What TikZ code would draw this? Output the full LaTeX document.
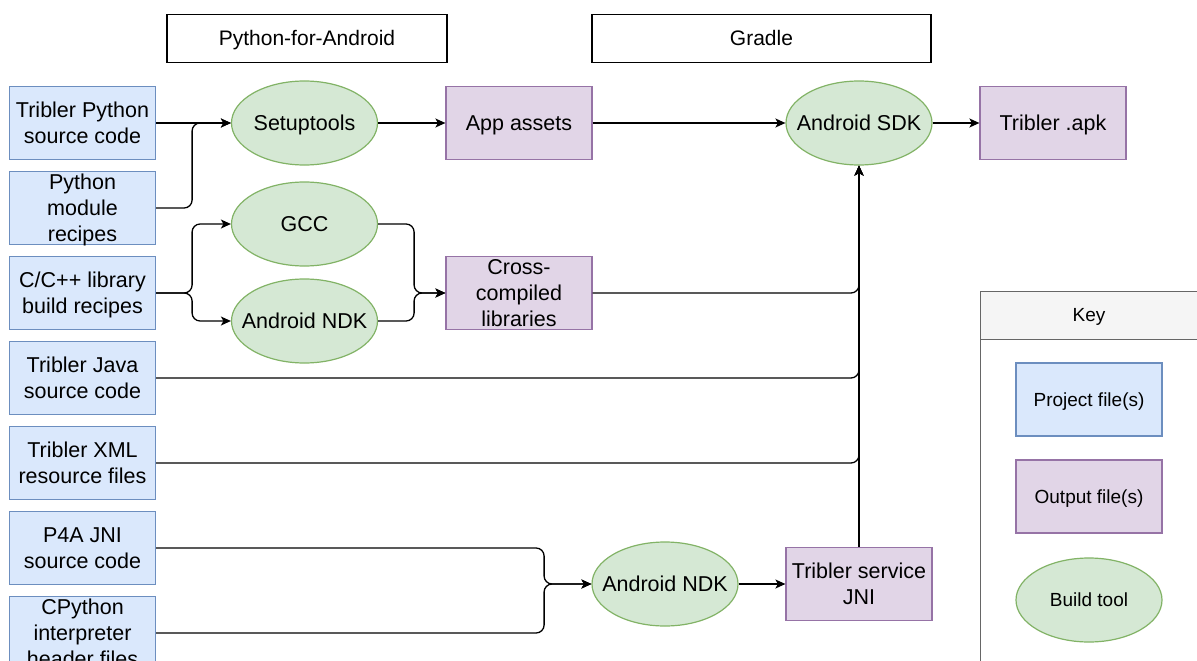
\documentclass[tikz,border=0pt]{standalone}
\usepackage{fontspec}
\setmainfont{Liberation Sans}
\usetikzlibrary{arrows.meta,shapes.geometric}
\definecolor{blueF}{HTML}{DAE8FC}
\definecolor{blueD}{HTML}{6C8EBF}
\definecolor{purF}{HTML}{E1D5E7}
\definecolor{purD}{HTML}{9673A6}
\definecolor{grnF}{HTML}{D5E8D4}
\definecolor{grnD}{HTML}{82B366}
\definecolor{keyF}{HTML}{F5F5F5}
\definecolor{keyD}{HTML}{666666}
\newcommand\sT{\rule[-0.2535em]{0pt}{1.2em}}
\begin{document}
\begin{tikzpicture}[x=1pt,y=-1pt,
  pbox/.style={draw=blueD,fill=blueF,line width=1.2pt,minimum width=146pt,minimum height=73pt,inner sep=0pt},
  obox/.style={draw=purD,fill=purF,line width=1.2pt,minimum width=146pt,minimum height=73pt,inner sep=0pt},
  tool/.style={ellipse,draw=grnD,fill=grnF,line width=1.2pt,minimum width=146pt,minimum height=84pt,inner sep=0pt},
  hdr/.style={draw=black,line width=1.2pt,inner sep=0pt,font=\fontsize{21}{25.2}\selectfont},
  lbl/.style={inner sep=0pt,align=center,font=\fontsize{21.5}{25.8}\selectfont},
  klbl/.style={inner sep=0pt,align=center,font=\fontsize{19}{22.8}\selectfont},
  conn/.style={draw=black,line width=1.3pt,rounded corners=8pt,-{Stealth[length=10pt,width=9pt,inset=2.5pt]}},
  line/.style={draw=black,line width=1.3pt,rounded corners=8pt}
]
\useasboundingbox (0,0) rectangle (1197,661);
\clip (0,0) rectangle (1197,661);

% headers
\node[hdr,minimum width=280pt,minimum height=48pt] (p4a-h) at (307,38.2) {\sT Python-for-Android};
\node[hdr,minimum width=339pt,minimum height=48pt] (grd-h) at (761.5,38.2) {\sT Gradle};

% project files
\node[pbox] (tps) at (82.5,123) {};
\node[lbl] (tps-t) at (tps.center) {\sT Tribler Python\\\sT source code};
\node[pbox] (pmr) at (82.5,208) {};
\node[lbl] (pmr-t) at (pmr.center) {\sT Python\\\sT module\\\sT recipes};
\node[pbox] (cpp) at (82.5,293) {};
\node[lbl] (cpp-t) at (cpp.center) {\sT C/C++ library\\\sT build recipes};
\node[pbox] (java) at (82.5,378) {};
\node[lbl] (java-t) at (java.center) {\sT Tribler Java\\\sT source code};
\node[pbox] (xml) at (82.5,463) {};
\node[lbl] (xml-t) at (xml.center) {\sT Tribler XML\\\sT resource files};
\node[pbox] (p4a) at (82.5,548) {};
\node[lbl] (p4a-t) at (p4a.center) {\sT P4A JNI\\\sT source code};
\node[pbox] (cpy) at (82.5,633) {};
\node[lbl] (cpy-t) at (cpy.center) {\sT CPython\\\sT interpreter\\\sT header files};

% tools
\node[tool] (setup) at (304.5,123) {};
\node[lbl] (setup-t) at (setup.center) {\sT Setuptools};
\node[tool] (gcc) at (304.5,224) {};
\node[lbl] (gcc-t) at (gcc.center) {\sT GCC};
\node[tool] (ndk1) at (304.5,321) {};
\node[lbl] (ndk1-t) at (ndk1.center) {\sT Android NDK};
\node[tool] (sdk) at (859,123) {};
\node[lbl] (sdk-t) at (sdk.center) {\sT Android SDK};
\node[tool] (ndk2) at (665,584) {};
\node[lbl] (ndk2-t) at (ndk2.center) {\sT Android NDK};

% outputs
\node[obox] (app) at (519,123) {};
\node[lbl] (app-t) at (app.center) {\sT App assets};
\node[obox] (cross) at (519,293) {};
\node[lbl] (cross-t) at (cross.center) {\sT Cross-\\\sT compiled\\\sT libraries};
\node[obox] (apk) at (1053,123) {};
\node[lbl] (apk-t) at (apk.center) {\sT Tribler .apk};
\node[obox] (jni) at (859,584) {};
\node[lbl] (jni-t) at (jni.center) {\sT Tribler service\\\sT JNI};

% key
\node[draw=keyD,fill=white,line width=1.2pt,anchor=north west,minimum width=230pt,minimum height=420pt,inner sep=0pt] (keyb) at (980,291) {};
\node[draw=keyD,fill=keyF,line width=1.2pt,anchor=north west,minimum width=230pt,minimum height=48pt,inner sep=0pt] (keyh) at (980,291) {};
\node[klbl] (keyh-t) at (1089,315.2) {\sT Key};
\node[pbox] (kproj) at (1089,399.5) {};
\node[klbl] (kproj-t) at (kproj.center) {\sT Project file(s)};
\node[obox] (kout) at (1089,496.5) {};
\node[klbl] (kout-t) at (kout.center) {\sT Output file(s)};
\node[tool] (ktool) at (1089,600) {};
\node[klbl] (ktool-t) at (ktool.center) {\sT Build tool};

% connectors
\draw[conn] (tps.east) -- (setup.west);
\draw[conn] (pmr.east) -- ++(36,0) |- (setup.west);
\draw[conn] (cpp.east) -- ++(36,0) |- (gcc.west);
\draw[conn] (cpp.east) -- ++(36,0) |- (ndk1.west);
\draw[conn] (gcc.east) -- ++(36,0) |- (cross.west);
\draw[conn] (ndk1.east) -- ++(36,0) |- (cross.west);
\draw[conn] (setup.east) -- (app.west);
\draw[conn] (app.east) -- (sdk.west);
\draw[conn] (sdk.east) -- (apk.west);
\draw[conn] (cross.east) -| (sdk.south);
\draw[conn] (java.east) -| (sdk.south);
\draw[conn] (xml.east) -| (sdk.south);
\draw[conn] (jni.north) -- (sdk.south);
\draw[conn] (p4a.east) -- ++(388,0) |- (ndk2.west);
\draw[conn] (cpy.east) -- ++(388,0) |- (ndk2.west);
\draw[conn] (ndk2.east) -- (jni.west);
\end{tikzpicture}
\end{document}
